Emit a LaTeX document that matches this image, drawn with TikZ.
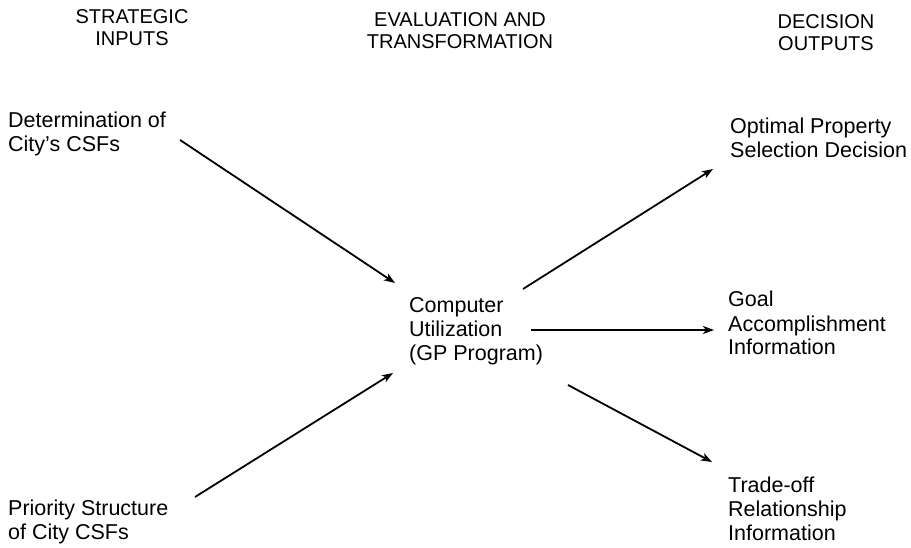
\documentclass[tikz,border=0pt]{standalone}
\usepackage{fontspec}
\setmainfont{Liberation Sans}
\usetikzlibrary{arrows.meta}
\tikzset{
  txt/.style={anchor=base west, inner sep=0pt, align=left, font=\fontsize{21.5}{24}\selectfont},
  head/.style={anchor=base, inner sep=0pt, align=center, font=\fontsize{20}{22}\selectfont},
  arr/.style={line width=1.8pt, -{Stealth[length=11pt,width=8pt,inset=3pt]}}
}
\begin{document}
\begin{tikzpicture}[x=1pt,y=-1pt]
\useasboundingbox (0,0) rectangle (911,548);
% anchor=base is the baseline of the LAST line
\node[head] (h1) at (132,45.5) {STRATEGIC\\INPUTS};
\node[head] (h2) at (460,48.5) {EVALUATION AND\\TRANSFORMATION};
\node[head] (h3) at (826,51) {DECISION\\OUTPUTS};

\node[txt] (det) at (8,152) {Determination of\\City's CSFs};
\node[txt] (pri) at (8,539) {Priority Structure\\of City CSFs};
\node[txt] (comp) at (409,360) {Computer\\Utilization\\(GP Program)};
\node[txt] (opt) at (730,158) {Optimal Property\\Selection Decision};
\node[txt] (goal) at (728,355) {Goal\\Accomplishment\\Information};
\node[txt] (trade) at (728,540) {Trade-off\\Relationship\\Information};

\coordinate (a1s) at (180,140); \coordinate (a1e) at (395,283);
\coordinate (a2s) at (195,497); \coordinate (a2e) at (393,373);
\coordinate (a3s) at (523,289); \coordinate (a3e) at (713,169);
\coordinate (a4s) at (531,330); \coordinate (a4e) at (714,330);
\coordinate (a5s) at (568,385); \coordinate (a5e) at (712,462);
\draw[arr] (a1s) -- (a1e);
\draw[arr] (a2s) -- (a2e);
\draw[arr] (a3s) -- (a3e);
\draw[arr] (a4s) -- (a4e);
\draw[arr] (a5s) -- (a5e);
\end{tikzpicture}
\end{document}
